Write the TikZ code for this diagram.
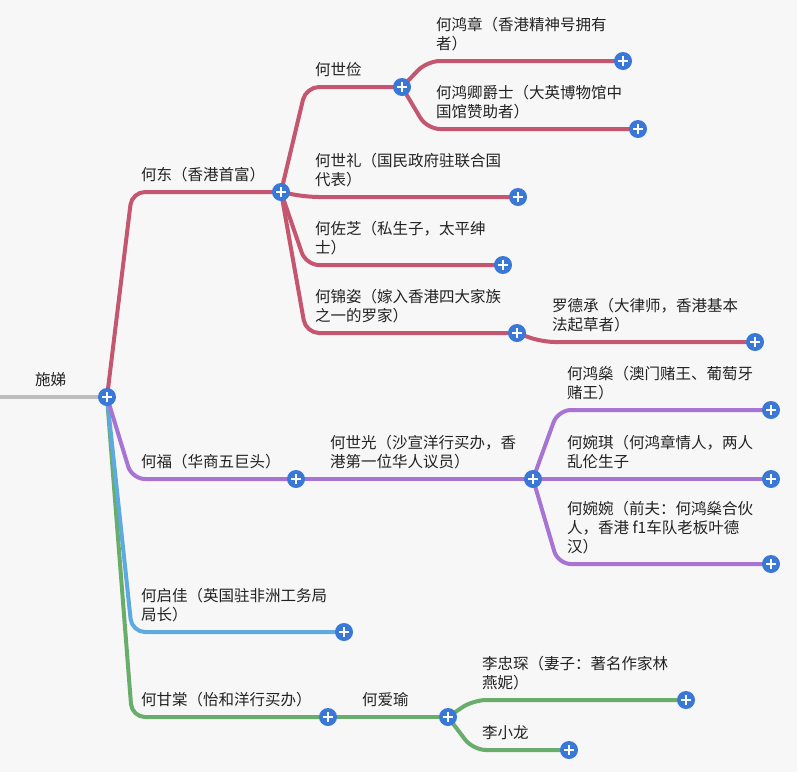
\documentclass[tikz,border=0pt]{standalone}
\usepackage{fontspec}
\setmainfont{Noto Sans CJK SC}
\usetikzlibrary{calc}
\pgfdeclarelayer{bg}
\pgfsetlayers{bg,main}
\definecolor{bgc}{HTML}{F7F7F7}
\definecolor{cred}{HTML}{C4566F}
\definecolor{cpur}{HTML}{A874D3}
\definecolor{cblu}{HTML}{5DAAE0}
\definecolor{cgrn}{HTML}{68AD6A}
\definecolor{cgry}{HTML}{BDBDBD}
\definecolor{cplus}{HTML}{3A78D8}
\definecolor{ctxt}{HTML}{222222}
\newcommand\brto[3]{\draw[br,#1] (#2.center) -- ($(#2.center|-#3.center)+(25,0)$) -- (#3.center);}
\begin{document}
\begin{tikzpicture}[x=1pt,y=-1pt,
 plus/.style={circle,fill=cplus,minimum size=18pt,inner sep=0pt,
   path picture={\draw[white,line width=2.4pt]
     ([xshift=-5pt]path picture bounding box.center) -- ([xshift=5pt]path picture bounding box.center)
     ([yshift=-5pt]path picture bounding box.center) -- ([yshift=5pt]path picture bounding box.center);}},
 lbl/.style={anchor=south west,inner sep=0pt,text depth=0pt,align=left,
   font=\fontsize{15.5}{19}\selectfont,text=ctxt},
 br/.style={line width=4pt,rounded corners=13pt},
]
\useasboundingbox (0,0) rectangle (797,772);
% plus nodes
\coordinate (cLeft) at (0,397);
\node[plus] (nRoot) at (107,397) {};
\node[plus] (nHeDong) at (281,192) {};
\node[plus] (nShiJian) at (402,87) {};
\node[plus] (nHongZhang) at (623,61) {};
\node[plus] (nHongQing) at (638,129) {};
\node[plus] (nShiLi) at (518,197) {};
\node[plus] (nZuoZhi) at (503,265) {};
\node[plus] (nJinZi) at (517,333) {};
\node[plus] (nDeCheng) at (755,342) {};
\node[plus] (nHeFu) at (296,479) {};
\node[plus] (nShiGuang) at (533,479) {};
\node[plus] (nHongShen) at (771,410) {};
\node[plus] (nWanQi) at (771,479) {};
\node[plus] (nWanWan) at (771,564) {};
\node[plus] (nQiJia) at (344,632) {};
\node[plus] (nGanTang) at (328,717) {};
\node[plus] (nAiYu) at (448,717) {};
\node[plus] (nZhongChen) at (686,700) {};
\node[plus] (nXiaoLong) at (569,750) {};
% labels
\node[lbl] (tRoot) at (35,385.5) {施娣};
\node[lbl] (tHeDong) at (141,180.5) {何东（香港首富）};
\node[lbl] (tShiJian) at (315,75.5) {何世俭};
\node[lbl] (tHongZhang) at (436,49.5) {何鸿章（香港精神号拥有\\者）};
\node[lbl] (tHongQing) at (436,117.5) {何鸿卿爵士（大英博物馆中\\国馆赞助者）};
\node[lbl] (tShiLi) at (315,185.5) {何世礼（国民政府驻联合国\\代表）};
\node[lbl] (tZuoZhi) at (315,253.5) {何佐芝（私生子，太平绅\\士）};
\node[lbl] (tJinZi) at (315,321.5) {何锦姿（嫁入香港四大家族\\之一的罗家）};
\node[lbl] (tDeCheng) at (552,330.5) {罗德承（大律师，香港基本\\法起草者）};
\node[lbl] (tHeFu) at (141,467.5) {何福（华商五巨头）};
\node[lbl] (tShiGuang) at (330,467.5) {何世光（沙宣洋行买办，香\\港第一位华人议员）};
\node[lbl] (tHongShen) at (567,398.5) {何鸿燊（澳门赌王、葡萄牙\\赌王）};
\node[lbl] (tWanQi) at (567,467.5) {何婉琪（何鸿章情人，两人\\乱伦生子};
\node[lbl] (tWanWan) at (567,552.5) {何婉婉（前夫：何鸿燊合伙\\人，香港 f1车队老板叶德\\汉）};
\node[lbl] (tQiJia) at (141,620.5) {何启佳（英国驻非洲工务局\\局长）};
\node[lbl] (tGanTang) at (141,705.5) {何甘棠（怡和洋行买办）};
\node[lbl] (tAiYu) at (362,705.5) {何爱瑜};
\node[lbl] (tZhongChen) at (482,688.5) {李忠琛（妻子：著名作家林\\燕妮）};
\node[lbl] (tXiaoLong) at (482,738.5) {李小龙};
% connectors
\begin{pgfonlayer}{bg}
\fill[bgc] (0,0) rectangle (797,772);
\draw[line width=4pt,cgry] (cLeft) -- (nRoot.center);
\brto{cgrn}{nRoot}{nGanTang}
\brto{cblu}{nRoot}{nQiJia}
\brto{cpur}{nRoot}{nHeFu}
\brto{cred}{nRoot}{nHeDong}
\brto{cred}{nHeDong}{nShiJian}
\brto{cred}{nShiJian}{nHongZhang}
\brto{cred}{nShiJian}{nHongQing}
\brto{cred}{nHeDong}{nShiLi}
\brto{cred}{nHeDong}{nZuoZhi}
\brto{cred}{nHeDong}{nJinZi}
\brto{cred}{nJinZi}{nDeCheng}
\brto{cpur}{nHeFu}{nShiGuang}
\brto{cpur}{nShiGuang}{nHongShen}
\brto{cpur}{nShiGuang}{nWanQi}
\brto{cpur}{nShiGuang}{nWanWan}
\brto{cgrn}{nGanTang}{nAiYu}
\brto{cgrn}{nAiYu}{nZhongChen}
\brto{cgrn}{nAiYu}{nXiaoLong}
\end{pgfonlayer}
\end{tikzpicture}
\end{document}
